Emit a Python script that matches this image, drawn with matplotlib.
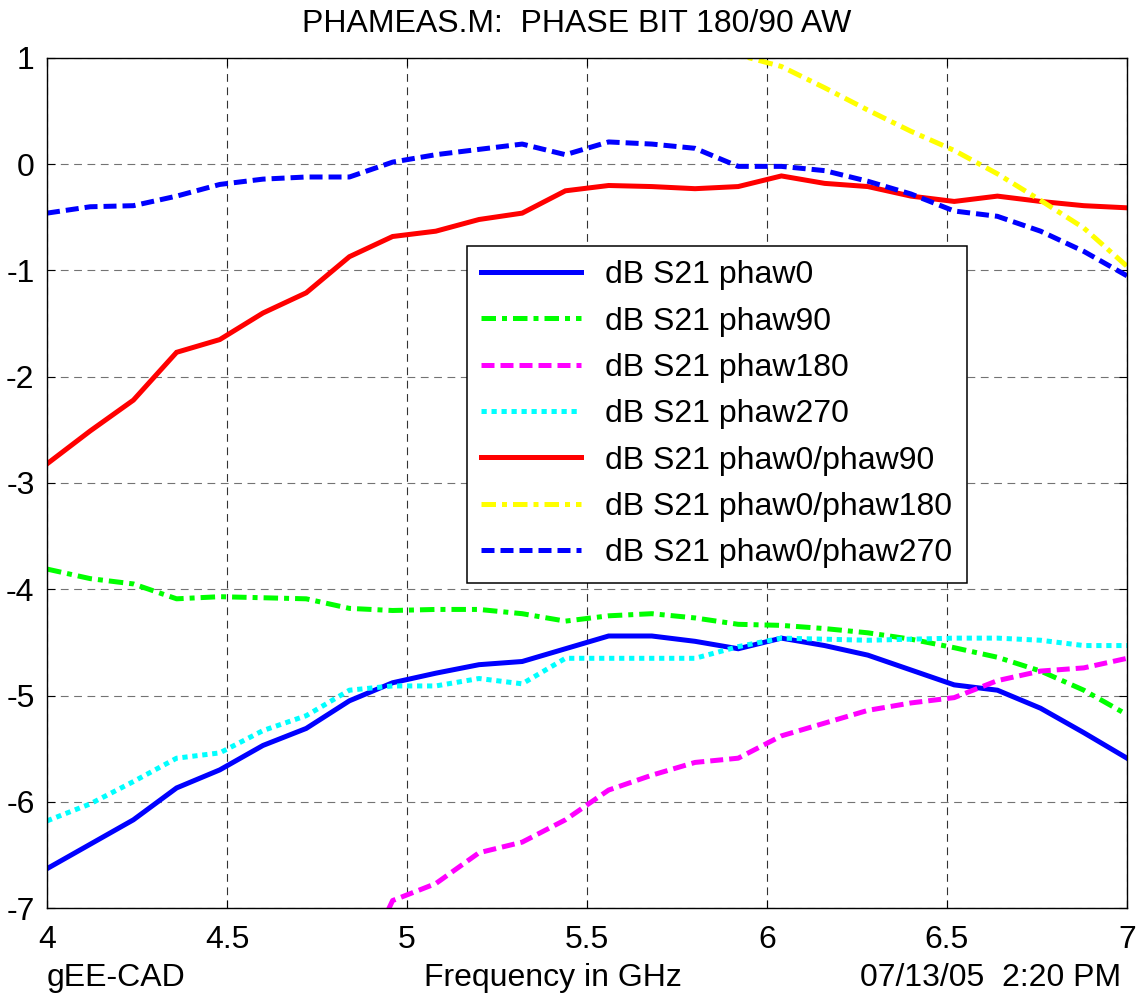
import matplotlib
matplotlib.use("Agg")
import matplotlib.pyplot as plt

plt.rcParams['font.family'] = ['Liberation Sans', 'DejaVu Sans']
plt.rcParams['axes.unicode_minus'] = False

# Frequency sweep (GHz)
freq = [4.00, 4.12, 4.24, 4.36, 4.48, 4.60, 4.72, 4.84, 4.96, 5.08, 5.20, 5.32, 5.44,
        5.56, 5.68, 5.80, 5.92, 6.04, 6.16, 6.28, 6.40, 6.52, 6.64, 6.76, 6.88, 7.00]

# Measured insertion loss, dB S21, per phase state
s21_phaw0 = [-6.63, -6.40, -6.17, -5.87, -5.70, -5.47, -5.31, -5.05, -4.88, -4.79, -4.71, -4.68, -4.56,
             -4.44, -4.44, -4.49, -4.56, -4.46, -4.53, -4.62, -4.76, -4.90, -4.95, -5.12, -5.35, -5.59]
s21_phaw90 = [-3.81, -3.90, -3.95, -4.09, -4.07, -4.08, -4.09, -4.18, -4.20, -4.19, -4.19, -4.23, -4.30,
              -4.25, -4.23, -4.27, -4.33, -4.34, -4.37, -4.41, -4.47, -4.55, -4.64, -4.77, -4.95, -5.18]
s21_phaw180 = [-9.70, -9.50, -9.30, -9.00, -8.80, -8.50, -8.20, -7.80, -6.93, -6.77, -6.48, -6.38, -6.17,
               -5.89, -5.75, -5.63, -5.59, -5.38, -5.26, -5.14, -5.07, -5.02, -4.86, -4.77, -4.74, -4.65]
s21_phaw270 = [-6.18, -6.02, -5.81, -5.59, -5.54, -5.33, -5.19, -4.95, -4.91, -4.91, -4.84, -4.89, -4.65,
               -4.65, -4.65, -4.65, -4.54, -4.46, -4.47, -4.48, -4.47, -4.46, -4.46, -4.48, -4.53, -4.53]

# Ratios between states, dB
s21_0_90 = [-2.82, -2.51, -2.22, -1.77, -1.65, -1.40, -1.21, -0.87, -0.68, -0.63, -0.52, -0.46, -0.25,
            -0.20, -0.21, -0.23, -0.21, -0.11, -0.18, -0.21, -0.30, -0.35, -0.30, -0.35, -0.39, -0.41]
s21_0_180 = [3.07, 3.10, 3.13, 3.13, 3.10, 3.03, 2.89, 2.75, 2.05, 1.98, 1.77, 1.70, 1.61,
             1.45, 1.31, 1.14, 1.03, 0.92, 0.72, 0.51, 0.31, 0.13, -0.09, -0.34, -0.60, -0.96]
s21_0_270 = [-0.46, -0.40, -0.39, -0.30, -0.19, -0.14, -0.12, -0.12, 0.02, 0.09, 0.14, 0.19, 0.09,
             0.21, 0.19, 0.15, -0.02, -0.02, -0.06, -0.16, -0.28, -0.44, -0.49, -0.63, -0.82, -1.05]

labels = ['dB S21 phaw0', 'dB S21 phaw90', 'dB S21 phaw180', 'dB S21 phaw270',
          'dB S21 phaw0/phaw90', 'dB S21 phaw0/phaw180', 'dB S21 phaw0/phaw270']
xticks = [4, 4.5, 5, 5.5, 6, 6.5, 7]
yticks = [-7, -6, -5, -4, -3, -2, -1, 0, 1]

W, H = 1138, 994
fig = plt.figure(figsize=(W / 100, H / 100), dpi=100)
ax = fig.add_axes([47 / W, 1 - 908 / H, (1127 - 47) / W, (908 - 58) / H])

lw = 3.6
dashed = (2.6, 1.2)
dashdot = (2.9, 1.2, 1.0, 1.2)
dotted = (1.05, 0.95)

series = [
    (s21_phaw0, '#0000ff', None),
    (s21_phaw90, '#00ff00', dashdot),
    (s21_phaw180, '#ff00ff', dashed),
    (s21_phaw270, '#00ffff', dotted),
    (s21_0_90, '#ff0000', None),
    (s21_0_180, '#ffff00', dashdot),
    (s21_0_270, '#0000ff', dashed),
]
for (vals, col, dash), lab in zip(series, labels):
    line, = ax.plot(freq, vals, color=col, lw=lw, label=lab,
                    solid_joinstyle='miter', dash_capstyle='butt')
    if dash is not None:
        line.set_dashes(dash)

ax.set_xlim(4, 7)
ax.set_ylim(-7, 1)
ax.set_xticks(xticks)
ax.set_xticklabels(['4', '4.5', '5', '5.5', '6', '6.5', '7'])
ax.set_yticks(yticks)
ax.set_yticklabels([str(v) for v in yticks])
ax.tick_params(direction='in', length=6, width=0.8, top=True, right=True,
               labelsize=23, colors='black')
ax.tick_params(axis='x', pad=12)
ax.tick_params(axis='y', pad=9)
ax.xaxis.grid(True, color='0.2', lw=0.8, linestyle=(0, (7, 5)))
ax.yaxis.grid(True, color='0.45', lw=0.8, linestyle=(0, (7, 5)))
for sp in ax.spines.values():
    sp.set_linewidth(1.0)
    sp.set_color('black')

leg = ax.legend(loc='upper left', bbox_to_anchor=(467 / W, 1 - 246 / H),
                bbox_transform=fig.transFigure, borderaxespad=0,
                fontsize=23, handlelength=3.13, handletextpad=0.75,
                borderpad=0.45, labelspacing=0.51, fancybox=False,
                framealpha=1, edgecolor='black')
leg.get_frame().set_linewidth(1.1)

fig.text(577 / W, 1 - 32 / H, 'PHAMEAS.M:  PHASE BIT 180/90 AW', ha='center',
         va='baseline', fontsize=23)
fig.text(47 / W, 1 - 986 / H, 'gEE-CAD', ha='left', va='baseline', fontsize=23)
fig.text(553 / W, 1 - 986 / H, 'Frequency in GHz', ha='center', va='baseline', fontsize=23)
fig.text(1121 / W, 1 - 986 / H, '07/13/05  2:20 PM', ha='right', va='baseline', fontsize=23)

fig.savefig('out.png', dpi=100)
